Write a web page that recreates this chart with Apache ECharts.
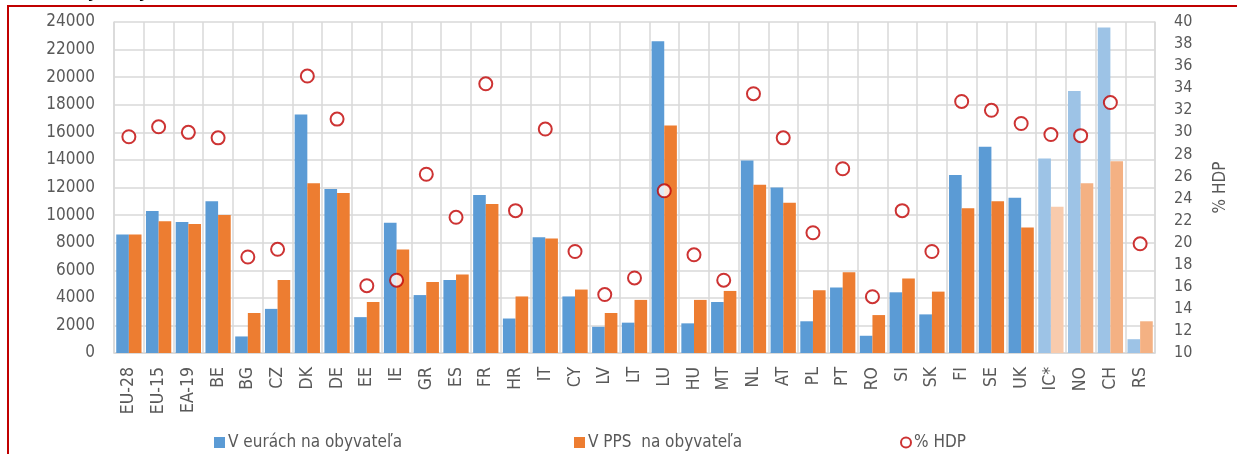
<!DOCTYPE html>
<html>
<head>
<meta charset="utf-8">
<script src="https://cdn.jsdelivr.net/npm/echarts@6/dist/echarts.min.js"></script>
<style>
  html, body { margin: 0; padding: 0; background: #fff; }
  #chart { width: 1237px; height: 454px; }
</style>
</head>
<body>
<div id="chart"></div>
<script>
const categories = ['EU-28', 'EU-15', 'EA-19', 'BE', 'BG', 'CZ', 'DK', 'DE', 'EE', 'IE', 'GR', 'ES', 'FR', 'HR', 'IT', 'CY', 'LV', 'LT', 'LU', 'HU', 'MT', 'NL', 'AT', 'PL', 'PT', 'RO', 'SI', 'SK', 'FI', 'SE', 'UK', 'IC*', 'NO', 'CH', 'RS']

const eurPerCapita = [8600, 10300, 9500, 11000, 1200, 3200, 17300, 11900, 2600, 9450, 4200, 5300, 11450, 2500, 8400, 4100, 1900, 2200, 22600, 2150, 3700, 13950, 12000, 2300, 4750, 1250, 4400, 2800, 12900, 14950, 11250, 14100, 19000, 23600, 1000]

const ppsPerCapita = [8600, 9550, 9350, 10000, 2900, 5300, 12300, 11600, 3700, 7500, 5150, 5700, 10800, 4100, 8300, 4600, 2900, 3850, 16500, 3850, 4500, 12200, 10900, 4550, 5850, 2750, 5400, 4450, 10500, 11000, 9100, 10600, 12300, 13900, 2300]

const pctGdp = [29.6, 30.5, 30.0, 29.5, 18.7, 19.4, 35.1, 31.2, 16.1, 16.6, 26.2, 22.3, 34.4, 22.9, 30.3, 19.2, 15.3, 16.8, 24.7, 18.9, 16.6, 33.5, 29.5, 20.9, 26.7, 15.1, 22.9, 19.2, 32.8, 32.0, 30.8, 29.8, 29.7, 32.7, 19.9]

const leftTicks = [0, 24000, 2000]
const rightTicks = [10, 40, 2]

// countries outside the EU are drawn in lighter shades
const nonEu = ['IC*', 'NO', 'CH', 'RS']

const font = "'DejaVu Sans Condensed', 'Liberation Sans', sans-serif"
const grey = '#595959'
const gridColor = '#d9d9d9'

const blueData = eurPerCapita.map((v, i) => {
  if (nonEu.indexOf(categories[i]) < 0) return v
  return { value: v, itemStyle: { color: '#9dc3e6' } }
})
const orangeData = ppsPerCapita.map((v, i) => {
  const c = categories[i]
  if (nonEu.indexOf(c) < 0) return v
  return { value: v, itemStyle: { color: c === 'IC*' ? '#f8cbad' : '#f4b183' } }
})

const chart = echarts.init(document.getElementById('chart'), null, { renderer: 'canvas' })

chart.setOption({
  animation: false,
  backgroundColor: '#fff',
  title: {
    text: 'Graf 1: Výdavky na sociálnu ochranu, 2016',
    left: 8,
    top: -22,
    textStyle: { fontFamily: 'Liberation Sans', fontWeight: 'bold', fontSize: 18, color: '#000' }
  },
  graphic: [{
    type: 'rect',
    left: 7,
    top: 5,
    shape: { width: 1300, height: 500 },
    style: { fill: '#fff', stroke: '#c00000', lineWidth: 2 },
    z: -1,
    silent: true
  }],
  grid: { left: 114, right: 71, top: 22, bottom: 101 },
  legend: [
    {
      data: ['V eurách na obyvateľa'],
      left: 209, top: 429,
      itemWidth: 11, itemHeight: 11, icon: 'rect', itemGap: 4,
      textStyle: { fontFamily: font, fontSize: 17, color: grey, padding: [0, 0, 0, -2] }
    },
    {
      data: ['V PPS  na obyvateľa'],
      left: 569, top: 429,
      itemWidth: 11, itemHeight: 11, icon: 'rect',
      textStyle: { fontFamily: font, fontSize: 17, color: grey, padding: [0, 0, 0, -2] }
    },
    {
      data: ['% HDP'],
      left: 895, top: 429,
      itemWidth: 10, itemHeight: 10,
      textStyle: { fontFamily: font, fontSize: 17, color: grey, padding: [0, 0, 0, -2] }
    }
  ],
  xAxis: {
    type: 'category',
    data: categories,
    axisLine: { lineStyle: { color: gridColor, width: 1.5 } },
    axisTick: { show: false },
    splitLine: { show: true, lineStyle: { color: gridColor, width: 1.5 } },
    axisLabel: { rotate: 90, margin: 14, fontFamily: font, fontSize: 17.5, color: grey, interval: 0 }
  },
  yAxis: [
    {
      type: 'value',
      min: leftTicks[0], max: leftTicks[1], interval: leftTicks[2],
      axisLine: { show: true, lineStyle: { color: gridColor, width: 1.5 } },
      splitLine: { lineStyle: { color: gridColor, width: 1.5 } },
      axisLabel: { margin: 19, fontFamily: font, fontSize: 17, color: grey, formatter: v => String(v) }
    },
    {
      type: 'value',
      min: rightTicks[0], max: rightTicks[1], interval: rightTicks[2],
      name: '% HDP',
      nameLocation: 'middle',
      nameRotate: 90,
      nameGap: 57,
      nameTextStyle: { fontFamily: font, fontSize: 17, color: grey },
      axisLine: { show: true, lineStyle: { color: gridColor, width: 1.5 } },
      splitLine: { show: false },
      axisLabel: { margin: 19, fontFamily: font, fontSize: 16, color: grey }
    }
  ],
  series: [
    {
      name: 'V eurách na obyvateľa',
      type: 'bar',
      data: blueData,
      itemStyle: { color: '#5b9bd5' },
      barGap: '0%',
      barCategoryGap: '15%'
    },
    {
      name: 'V PPS  na obyvateľa',
      type: 'bar',
      data: orangeData,
      itemStyle: { color: '#ed7d31' }
    },
    {
      name: '% HDP',
      type: 'scatter',
      yAxisIndex: 1,
      data: pctGdp,
      symbol: 'emptyCircle',
      symbolSize: 13,
      itemStyle: { color: '#c00000', borderColor: '#c00000', borderWidth: 2 },
      z: 5
    }
  ]
})
</script>
</body>
</html>
